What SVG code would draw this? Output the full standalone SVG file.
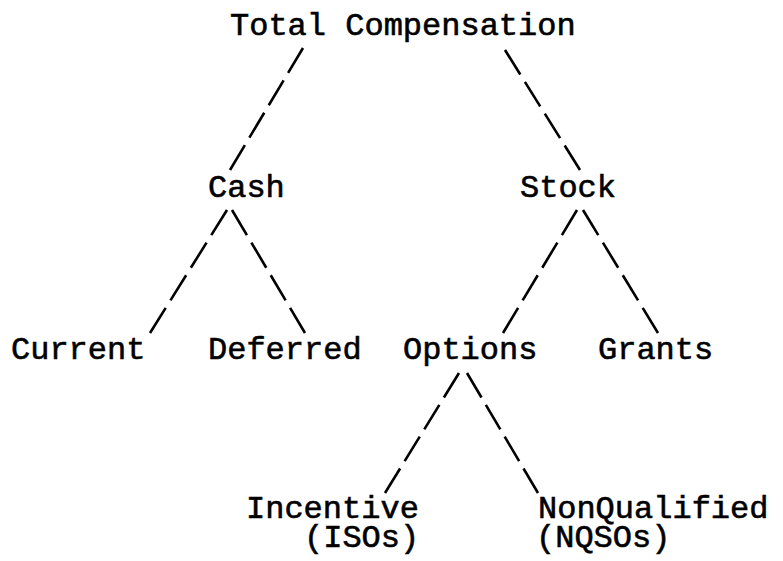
<svg xmlns="http://www.w3.org/2000/svg" width="783" height="561" viewBox="0 0 783 561">
<style>
text{font-family:"Liberation Mono","Courier New",monospace;font-size:32px;fill:#000;stroke:#000;stroke-width:0.6}
.c{fill:none;stroke:#000;stroke-width:2.6;stroke-dasharray:20.4 6.13}
</style>
<rect width="783" height="561" fill="#fff"/>
<g id="connectors">
<line class="c" pathLength="100" x1="303" y1="48" x2="230" y2="170"/>
<line class="c" pathLength="100" x1="505" y1="50" x2="580" y2="170"/>
<line class="c" pathLength="100" x1="227" y1="210" x2="150" y2="333"/>
<line class="c" pathLength="100" x1="232" y1="210" x2="305" y2="333"/>
<line class="c" pathLength="100" x1="577" y1="210" x2="503" y2="333"/>
<line class="c" pathLength="100" x1="583" y1="210" x2="658" y2="333"/>
<line class="c" pathLength="100" x1="459" y1="373" x2="385" y2="493"/>
<line class="c" pathLength="100" x1="467" y1="373" x2="538" y2="493"/>
</g>
<g id="total"><text x="230" y="35">Total Compensation</text></g>
<g id="cash"><text x="208" y="197">Cash</text></g>
<g id="stock"><text x="520" y="197">Stock</text></g>
<g id="current"><text x="11" y="359">Current</text></g>
<g id="deferred"><text x="208" y="359">Deferred</text></g>
<g id="options"><text x="403" y="359">Options</text></g>
<g id="grants"><text x="598" y="359">Grants</text></g>
<g id="incentive"><text x="246" y="518">Incentive</text><text x="304" y="547">(ISOs)</text></g>
<g id="nonqualified"><text x="538" y="518">NonQualified</text><text x="536" y="547">(NQSOs)</text></g>
</svg>
